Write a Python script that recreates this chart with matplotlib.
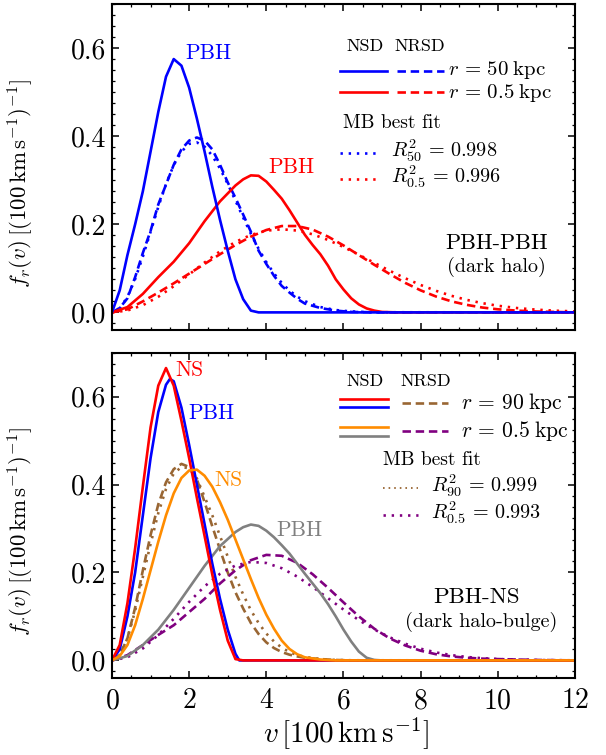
import matplotlib
matplotlib.use("Agg")
import matplotlib.pyplot as plt
from matplotlib.ticker import MultipleLocator, FormatStrFormatter

plt.rcParams['font.family'] = 'serif'
plt.rcParams['font.serif'] = ['cmr10']
plt.rcParams['mathtext.fontset'] = 'cm'
plt.rcParams['axes.formatter.use_mathtext'] = True

# ---------------- PBH-PBH (dark halo) ----------------
# NSD, r = 50 kpc
v_b50_nsd = [0, 0.2, 0.4, 0.6, 0.8, 1.0, 1.2, 1.4, 1.6, 1.8, 2.0, 2.2, 2.4, 2.6,
             2.8, 3.0, 3.2, 3.4, 3.6, 3.8, 12]
f_b50_nsd = [0, 0.05, 0.13, 0.20, 0.275, 0.365, 0.455, 0.535, 0.575, 0.56, 0.51,
             0.44, 0.365, 0.285, 0.21, 0.14, 0.075, 0.03, 0.004, 0, 0]
# NRSD, r = 50 kpc
v_b50_nrsd = [0, 0.2, 0.4, 0.6, 0.8, 1.0, 1.2, 1.4, 1.6, 1.8, 2.0, 2.2, 2.4, 2.6,
              2.8, 3.0, 3.2, 3.4, 3.6, 3.8, 4.0, 4.2, 4.4, 4.6, 4.8, 5.0, 5.4,
              5.8, 6.2, 7.0, 12]
f_b50_nrsd = [0, 0.01, 0.032, 0.08, 0.135, 0.185, 0.245, 0.29, 0.335, 0.37, 0.39,
              0.397, 0.39, 0.37, 0.335, 0.295, 0.26, 0.222, 0.183, 0.14, 0.11,
              0.083, 0.06, 0.045, 0.031, 0.02, 0.01, 0.004, 0.001, 0, 0]
# MB best fit, r = 50 kpc
v_b50_mb = [0, 0.2, 0.4, 0.6, 0.8, 1.0, 1.2, 1.4, 1.6, 1.8, 2.0, 2.2, 2.4, 2.6,
            2.8, 3.0, 3.2, 3.4, 3.6, 3.8, 4.0, 4.2, 4.4, 4.6, 4.8, 5.0, 5.4,
            5.8, 6.2, 6.6, 7.0, 12]
f_b50_mb = [0, 0.009, 0.0351, 0.0756, 0.1266, 0.1829, 0.2395, 0.2913, 0.3342,
            0.365, 0.3824, 0.3858, 0.3762, 0.3557, 0.3265, 0.2917, 0.2537,
            0.2153, 0.1784, 0.1443, 0.1141, 0.0882, 0.0668, 0.0495, 0.0358,
            0.0254, 0.0121, 0.0053, 0.0021, 0.0008, 0.0003, 0]
# NSD, r = 0.5 kpc
v_r05_nsd = [0, 0.4, 0.8, 1.2, 1.6, 2.0, 2.4, 2.8, 3.2, 3.4, 3.6, 3.8, 4.0, 4.2,
             4.4, 4.6, 4.8, 5.0, 5.2, 5.4, 5.6, 5.8, 6.0, 6.2, 6.4, 6.6, 6.8,
             7.0, 7.4, 12]
f_r05_nsd = [0, 0.012, 0.042, 0.08, 0.115, 0.157, 0.207, 0.252, 0.288, 0.302,
             0.311, 0.31, 0.297, 0.278, 0.258, 0.232, 0.204, 0.176, 0.153,
             0.132, 0.106, 0.075, 0.052, 0.032, 0.018, 0.009, 0.004, 0.001, 0, 0]
# NRSD, r = 0.5 kpc
v_r05_nrsd = [0, 0.4, 0.8, 1.2, 1.6, 2.0, 2.4, 2.8, 3.2, 3.6, 4.0, 4.4, 4.8, 5.2,
              5.6, 6.0, 6.4, 6.8, 7.2, 7.6, 8.0, 8.4, 8.8, 9.2, 9.6, 10.0,
              10.5, 11.0, 11.5, 12]
f_r05_nrsd = [0, 0.007, 0.025, 0.045, 0.066, 0.088, 0.11, 0.132, 0.153, 0.172,
              0.187, 0.196, 0.196, 0.188, 0.172, 0.152, 0.13, 0.108, 0.087,
              0.067, 0.05, 0.036, 0.025, 0.017, 0.011, 0.007, 0.004, 0.002,
              0.001, 0]
# MB best fit, r = 0.5 kpc
v_r05_mb = [0, 0.4, 0.8, 1.2, 1.6, 2.0, 2.4, 2.8, 3.2, 3.6, 4.0, 4.4, 4.8, 5.2,
            5.6, 6.0, 6.4, 6.8, 7.2, 7.6, 8.0, 8.4, 8.8, 9.2, 9.6, 10.0, 10.5,
            11.0, 11.5, 12.0]
f_r05_mb = [0, 0.0042, 0.0164, 0.0354, 0.0594, 0.0862, 0.1133, 0.1386, 0.1599,
            0.1758, 0.1855, 0.1887, 0.1857, 0.1773, 0.1644, 0.1485, 0.1308,
            0.1124, 0.0944, 0.0775, 0.0622, 0.0489, 0.0376, 0.0283, 0.0209,
            0.0151, 0.0098, 0.0062, 0.0038, 0.0022]

# ---------------- PBH-NS (dark halo-bulge) ----------------
# NSD, r = 90 kpc: NS and PBH
v_ns90 = [0, 0.2, 0.4, 0.6, 0.8, 1.0, 1.2, 1.4, 1.6, 1.8, 2.0, 2.2, 2.4, 2.6,
          2.8, 3.0, 3.2, 3.4, 12]
f_ns90 = [0, 0.035, 0.13, 0.255, 0.395, 0.53, 0.625, 0.665, 0.625, 0.545, 0.46,
          0.37, 0.283, 0.195, 0.115, 0.045, 0.003, 0, 0]
v_pbh90 = [0, 0.2, 0.4, 0.6, 0.8, 1.0, 1.2, 1.4, 1.5, 1.6, 1.8, 2.0, 2.2, 2.4,
           2.6, 2.8, 3.0, 3.2, 3.3, 12]
f_pbh90 = [0, 0.025, 0.1, 0.2, 0.33, 0.46, 0.565, 0.627, 0.64, 0.635, 0.575,
           0.49, 0.40, 0.31, 0.22, 0.14, 0.07, 0.015, 0, 0]
# NSD, r = 0.5 kpc: NS and PBH
v_ns05 = [0, 0.2, 0.4, 0.6, 0.8, 1.0, 1.2, 1.4, 1.6, 1.8, 2.0, 2.2, 2.4, 2.6,
          2.8, 3.0, 3.2, 3.4, 3.6, 3.8, 4.0, 4.2, 4.4, 4.6, 4.8, 5.0, 5.4, 5.8, 12]
f_ns05 = [0, 0.01, 0.035, 0.08, 0.14, 0.205, 0.27, 0.33, 0.38, 0.415, 0.432,
          0.434, 0.42, 0.395, 0.36, 0.32, 0.275, 0.23, 0.185, 0.142, 0.104,
          0.072, 0.045, 0.026, 0.014, 0.007, 0.002, 0, 0]
v_pbh05 = [0, 0.4, 0.8, 1.2, 1.6, 2.0, 2.4, 2.8, 3.2, 3.4, 3.6, 3.8, 4.0, 4.2,
           4.4, 4.6, 4.8, 5.0, 5.2, 5.4, 5.6, 5.8, 6.0, 6.2, 6.4, 6.6, 6.8, 7.0, 12]
f_pbh05 = [0, 0.01, 0.035, 0.07, 0.115, 0.165, 0.215, 0.26, 0.292, 0.303, 0.309,
           0.306, 0.295, 0.28, 0.262, 0.243, 0.22, 0.197, 0.175, 0.153, 0.128,
           0.1, 0.07, 0.043, 0.02, 0.006, 0.001, 0, 0]
# NRSD and MB fit, r = 90 kpc
v_90_nrsd = [0, 0.2, 0.4, 0.6, 0.8, 1.0, 1.2, 1.4, 1.6, 1.8, 2.0, 2.2, 2.4, 2.6,
             2.8, 3.0, 3.2, 3.4, 3.6, 3.8, 4.0, 4.2, 4.4, 4.6, 4.8, 5.0, 5.4,
             5.8, 6.2, 12]
f_90_nrsd = [0, 0.012, 0.05, 0.12, 0.205, 0.285, 0.355, 0.405, 0.435, 0.447,
             0.44, 0.412, 0.36, 0.305, 0.252, 0.2, 0.155, 0.118, 0.085, 0.06,
             0.041, 0.028, 0.019, 0.013, 0.009, 0.006, 0.003, 0.001, 0, 0]
v_90_mb = [0, 0.2, 0.4, 0.6, 0.8, 1.0, 1.2, 1.4, 1.6, 1.8, 2.0, 2.2, 2.4, 2.6,
           2.8, 3.0, 3.2, 3.4, 3.6, 3.8, 4.0, 4.2, 4.4, 4.6, 4.8, 5.0, 5.4, 5.8,
           6.2, 12]
f_90_mb = [0, 0.012, 0.05, 0.113, 0.19, 0.265, 0.335, 0.39, 0.425, 0.44, 0.437,
           0.414, 0.372, 0.33, 0.283, 0.236, 0.19, 0.15, 0.114, 0.085, 0.061,
           0.043, 0.029, 0.019, 0.012, 0.008, 0.003, 0.001, 0.0003, 0]
# NRSD and MB fit, r = 0.5 kpc
v_05_nrsd = [0, 0.4, 0.8, 1.2, 1.6, 2.0, 2.4, 2.8, 3.2, 3.6, 4.0, 4.4, 4.8, 5.2,
             5.6, 6.0, 6.4, 6.8, 7.2, 7.6, 8.0, 8.4, 8.8, 9.2, 9.6, 10.0, 11.0, 12]
f_05_nrsd = [0, 0.012, 0.035, 0.058, 0.08, 0.11, 0.14, 0.175, 0.205, 0.228,
             0.24, 0.238, 0.222, 0.196, 0.165, 0.132, 0.1, 0.072, 0.05, 0.034,
             0.022, 0.014, 0.009, 0.006, 0.004, 0.003, 0.001, 0]
v_05_mb = [0, 0.4, 0.8, 1.2, 1.6, 2.0, 2.4, 2.8, 3.2, 3.6, 4.0, 4.4, 4.8, 5.2,
           5.6, 6.0, 6.4, 6.8, 7.2, 7.6, 8.0, 8.4, 8.8, 9.2, 9.6, 10.0, 11.0, 12.0]
f_05_mb = [0, 0.007, 0.0272, 0.0578, 0.0946, 0.1331, 0.1685, 0.197, 0.2159,
           0.224, 0.2216, 0.2097, 0.1907, 0.1671, 0.1414, 0.1157, 0.0916,
           0.0703, 0.0524, 0.0379, 0.0266, 0.0181, 0.012, 0.0078, 0.0049,
           0.003, 0.0008, 0.0002]

BLUE = '#0000ff'
RED = '#ff0000'
ORANGE = '#ff8c00'
GRAY = '#808080'
BROWN = '#996633'
PURPLE = '#800080'

LW = 1.9
DASH = (0, (3.2, 1.8))
DOT = (0, (0.9, 2.2))

fig = plt.figure(figsize=(6.06, 7.55), dpi=100)
ax1 = fig.add_axes([0.1848, 0.5629, 0.764, 0.4318])
ax2 = fig.add_axes([0.1848, 0.1020, 0.764, 0.4309])

for ax in (ax1, ax2):
    ax.set_xlim(0, 12)
    ax.set_ylim(-0.04, 0.70)
    ax.xaxis.set_major_locator(MultipleLocator(2))
    ax.xaxis.set_minor_locator(MultipleLocator(0.5))
    ax.yaxis.set_major_locator(MultipleLocator(0.2))
    ax.yaxis.set_minor_locator(MultipleLocator(0.025))
    ax.yaxis.set_major_formatter(FormatStrFormatter('%.1f'))
    ax.tick_params(which='both', direction='in', top=True, right=True,
                   labelsize=20)
    ax.tick_params(which='major', length=5, width=1.1)
    ax.tick_params(which='minor', length=2.5, width=0.9)
    ax.tick_params(axis='x', pad=7)
    ax.tick_params(axis='y', pad=4)
    for s in ax.spines.values():
        s.set_linewidth(1.5)
    ax.set_ylabel(r'$f_r(v)\,[(100\,\mathrm{km\,s^{-1}})^{-1}]$', fontsize=16.5)
    ax.yaxis.set_label_coords(-0.165, 0.45)

ax1.tick_params(axis='x', labelbottom=False)
ax2.set_xlabel(r'$v\,[100\,\mathrm{km\,s^{-1}}]$', fontsize=21)
ax2.xaxis.set_label_coords(0.505, -0.115)

# top panel curves
ax1.plot(v_b50_nrsd, f_b50_nrsd, color=BLUE, lw=LW, ls=DASH)
ax1.plot(v_b50_mb, f_b50_mb, color=BLUE, lw=LW, ls=DOT)
ax1.plot(v_r05_nrsd, f_r05_nrsd, color=RED, lw=LW, ls=DASH)
ax1.plot(v_r05_mb, f_r05_mb, color=RED, lw=LW, ls=DOT)
ax1.plot(v_r05_nsd, f_r05_nsd, color=RED, lw=LW)
ax1.plot(v_b50_nsd, f_b50_nsd, color=BLUE, lw=LW)

ax1.text(2.5, 0.588, 'PBH', color=BLUE, fontsize=15.5, ha='center', va='center')
ax1.text(4.66, 0.33, 'PBH', color=RED, fontsize=15.5, ha='center', va='center')

# hand-made legend, top
ax1.text(6.56, 0.605, 'NSD', fontsize=13, ha='center', va='center')
ax1.text(7.98, 0.605, 'NRSD', fontsize=13, ha='center', va='center')
ax1.plot([5.91, 7.12], [0.548, 0.548], color=BLUE, lw=LW)
ax1.plot([7.4, 8.6], [0.548, 0.548], color=BLUE, lw=LW, ls=DASH)
ax1.text(8.72, 0.551, r'$r\,=\,50\;\mathrm{kpc}$', fontsize=15, va='center')
ax1.plot([5.91, 7.12], [0.50, 0.50], color=RED, lw=LW)
ax1.plot([7.4, 8.6], [0.50, 0.50], color=RED, lw=LW, ls=DASH)
ax1.text(8.72, 0.497, r'$r\,=\,0.5\;\mathrm{kpc}$', fontsize=15, va='center')
ax1.text(5.98, 0.43, 'MB best fit', fontsize=14, va='center')
ax1.plot([5.91, 6.89], [0.361, 0.361], color=BLUE, lw=LW, ls=DOT)
ax1.text(7.22, 0.366, r'$R^2_{50}\,=\,0.998$', fontsize=14.5, va='center')
ax1.plot([5.91, 6.89], [0.302, 0.302], color=RED, lw=LW, ls=DOT)
ax1.text(7.22, 0.307, r'$R^2_{0.5}\,=\,0.996$', fontsize=14.5, va='center')
ax1.text(9.97, 0.156, 'PBH-PBH', fontsize=16, ha='center', va='center')
ax1.text(9.97, 0.103, '(dark halo)', fontsize=14.5, ha='center', va='center')

# bottom panel curves
ax2.plot(v_90_nrsd, f_90_nrsd, color=BROWN, lw=LW, ls=DASH)
ax2.plot(v_90_mb, f_90_mb, color=BROWN, lw=LW, ls=DOT)
ax2.plot(v_05_nrsd, f_05_nrsd, color=PURPLE, lw=LW, ls=DASH)
ax2.plot(v_05_mb, f_05_mb, color=PURPLE, lw=LW, ls=DOT)
ax2.plot(v_pbh05, f_pbh05, color=GRAY, lw=LW)
ax2.plot(v_pbh90, f_pbh90, color=BLUE, lw=LW)
ax2.plot(v_ns90, f_ns90, color=RED, lw=LW)
ax2.plot(v_ns05, f_ns05, color=ORANGE, lw=LW)

ax2.text(2.0, 0.659, 'NS', color=RED, fontsize=15.5, ha='center', va='center')
ax2.text(2.58, 0.562, 'PBH', color=BLUE, fontsize=15.5, ha='center', va='center')
ax2.text(3.03, 0.409, 'NS', color=ORANGE, fontsize=15.5, ha='center', va='center')
ax2.text(4.87, 0.295, 'PBH', color=GRAY, fontsize=15.5, ha='center', va='center')

# hand-made legend, bottom
ax2.text(6.56, 0.635, 'NSD', fontsize=13, ha='center', va='center')
ax2.text(8.14, 0.635, 'NRSD', fontsize=13, ha='center', va='center')
ax2.plot([5.91, 7.15], [0.595, 0.595], color=RED, lw=LW)
ax2.plot([5.91, 7.15], [0.576, 0.576], color=BLUE, lw=LW)
ax2.plot([7.51, 8.72], [0.586, 0.586], color=BROWN, lw=LW, ls=DASH)
ax2.text(9.05, 0.586, r'$r\,=\,90\;\mathrm{kpc}$', fontsize=15.5, va='center')
ax2.plot([5.91, 7.15], [0.53, 0.53], color=ORANGE, lw=LW)
ax2.plot([5.91, 7.15], [0.511, 0.511], color=GRAY, lw=LW)
ax2.plot([7.51, 8.72], [0.521, 0.521], color=PURPLE, lw=LW, ls=DASH)
ax2.text(9.05, 0.521, r'$r\,=\,0.5\;\mathrm{kpc}$', fontsize=15.5, va='center')
ax2.text(7.02, 0.455, 'MB best fit', fontsize=14, va='center')
ax2.plot([7.02, 7.94], [0.392, 0.392], color=BROWN, lw=1.3, ls=DOT)
ax2.text(8.27, 0.397, r'$R^2_{90}\,=\,0.999$', fontsize=14.5, va='center')
ax2.plot([7.02, 7.94], [0.33, 0.33], color=PURPLE, lw=LW, ls=DOT)
ax2.text(8.27, 0.335, r'$R^2_{0.5}\,=\,0.993$', fontsize=14.5, va='center')
ax2.text(9.45, 0.144, 'PBH-NS', fontsize=16.5, ha='center', va='center')
ax2.text(9.58, 0.087, '(dark halo-bulge)', fontsize=14.5, ha='center', va='center')

fig.savefig('out.png', dpi=100)
